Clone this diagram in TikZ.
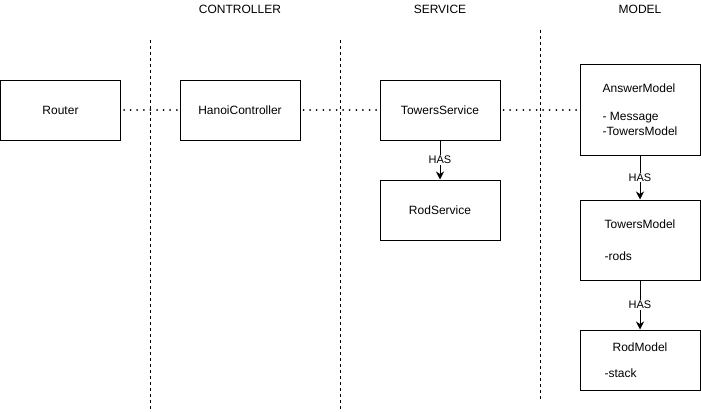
\documentclass[tikz,border=0pt]{standalone}
\usepackage{fontspec}
\setmainfont{Liberation Sans}
\usetikzlibrary{arrows.meta}

\begin{document}
\begin{tikzpicture}[x=1pt,y=-1pt,font=\fontsize{12}{15}\selectfont,
        box/.style={draw,line width=1pt,minimum width=120pt,minimum height=60pt,inner sep=0pt,align=left},
        link/.style={line width=2pt,line cap=round,dash pattern=on 0pt off 6.6pt,dash phase=-3pt},
        has/.style={line width=1pt,-{Stealth[length=8pt,width=8pt,inset=2.5pt]}},
        haslabel/.style={fill=white,inner sep=1pt,font=\fontsize{11}{13}\selectfont},
        layer/.style={line width=1pt,dash pattern=on 3pt off 3pt}]
    \useasboundingbox (0,0) rectangle (701,412);

    % layer borders and titles
    \foreach \x/\top/\bot in {150/40/410,340/40/410,540/30/400}
        \draw[layer] (\x,\top) -- (\x,\bot);
    \foreach \x/\name in {240/CONTROLLER,440/SERVICE,640/MODEL}
        \node (title\name) at (\x,9) {\name};

    \node[box] (router) at (60.5,110) {Router};
    \node[box] (controller) at (240,110) {HanoiController};
    \node[box] (service) at (440,110) {TowersService};
    \node[box] (rodservice) at (440,210) {RodService};

    \node[box,minimum height=90pt] (answer) at (640,110) {AnswerModel\\[13pt]- Message\\-TowersModel};
    \node[box,minimum height=80pt] (towers) at (640,240) {TowersModel\\[17pt]-rods};
    \node[box] (rodmodel) at (640,360) {\hspace*{8pt}RodModel\hspace*{8pt}\\[11pt]-stack};

    \draw[link] (router) -- (controller);
    \draw[link] (controller) -- (service);
    \draw[link] (service) -- (answer);

    \draw[has] (service) -- node[haslabel] {HAS} (rodservice);
    \draw[has] (answer) -- node[haslabel] {HAS} (towers);
    \draw[has] (towers) -- node[haslabel] {HAS} (rodmodel);
\end{tikzpicture}
\end{document}
